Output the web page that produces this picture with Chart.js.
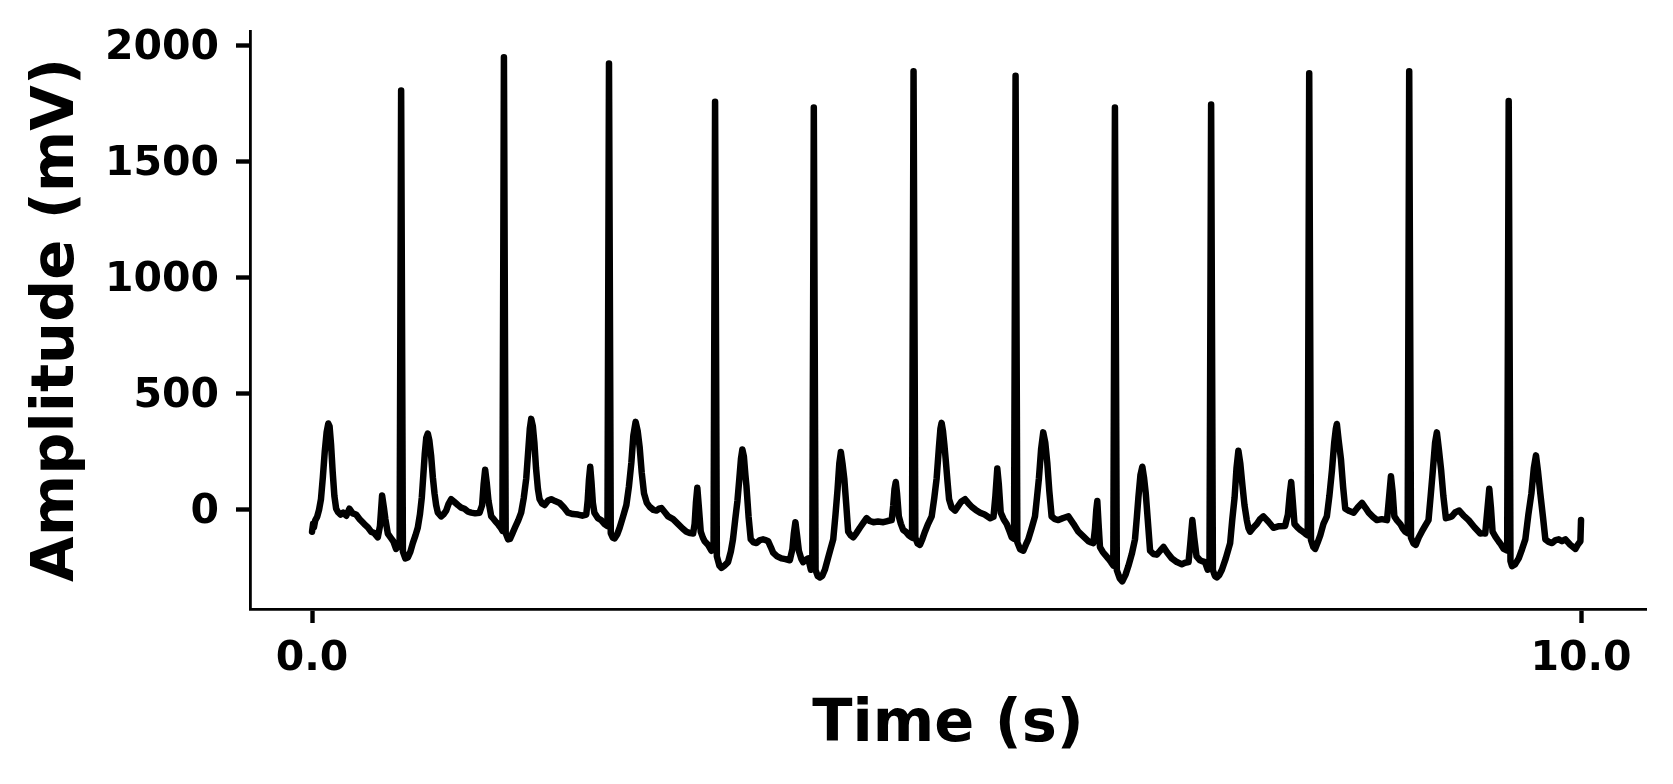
<!DOCTYPE html>
<html>
<head>
<meta charset="utf-8">
<script src="https://cdn.jsdelivr.net/npm/chart.js@4.4.0/dist/chart.umd.min.js"></script>
<style>
  html, body { margin: 0; padding: 0; background: #ffffff; }
  #wrap { width: 1673px; height: 784px; position: relative; }
</style>
</head>
<body>
<div id="wrap"><canvas id="chart"></canvas></div>
<script>
// ---- Data ----
const timeS = [
  0.000, 0.008, 0.015, 0.025, 0.040, 0.055, 0.070, 0.085, 0.100, 0.115, 0.128, 0.138, 0.150, 0.163, 0.176, 0.190, 0.205, 0.225, 0.245, 0.270,
  0.294, 0.320, 0.347, 0.375, 0.412, 0.440, 0.465, 0.490, 0.518, 0.535, 0.552, 0.566, 0.578, 0.597, 0.620, 0.640, 0.662, 0.686,
  0.690, 0.702, 0.716, 0.735, 0.755, 0.775, 0.794, 0.815, 0.833, 0.850, 0.865, 0.877, 0.888, 0.900, 0.912, 0.924, 0.938, 0.952, 0.965, 0.978,
  0.991, 1.017, 1.035, 1.057, 1.075, 1.096, 1.120, 1.149, 1.175, 1.201, 1.230, 1.254, 1.285, 1.320, 1.340, 1.352, 1.364, 1.376, 1.390, 1.412,
  1.432, 1.451, 1.470, 1.490, 1.500,
  1.512, 1.526, 1.545, 1.560, 1.580, 1.600, 1.625, 1.648, 1.668, 1.688, 1.703, 1.716, 1.727, 1.740, 1.752, 1.765, 1.780, 1.793, 1.812, 1.833,
  1.860, 1.885, 1.915, 1.951, 1.985, 2.017, 2.055, 2.096, 2.130, 2.161, 2.172, 2.182, 2.192, 2.202, 2.213, 2.225, 2.253, 2.280, 2.305, 2.328,
  2.340, 2.354, 2.370, 2.385, 2.405, 2.424, 2.450, 2.477, 2.497, 2.516, 2.532, 2.550, 2.566, 2.582, 2.598, 2.616, 2.638, 2.661, 2.690, 2.714,
  2.735, 2.753, 2.780, 2.806, 2.845, 2.885, 2.920, 2.950, 2.980, 3.003, 3.015, 3.025, 3.036, 3.047, 3.063, 3.080, 3.094, 3.120, 3.147, 3.164,
  3.176, 3.190, 3.210, 3.226, 3.250, 3.278, 3.300, 3.317, 3.335, 3.352, 3.368, 3.380, 3.391, 3.403, 3.415, 3.423, 3.440, 3.457, 3.480, 3.502,
  3.530, 3.554, 3.575, 3.594, 3.615, 3.633, 3.665, 3.699, 3.730, 3.765, 3.785, 3.797, 3.809, 3.822, 3.836, 3.855, 3.870, 3.890, 3.910, 3.931,
  3.942,
  3.954, 3.968, 3.985, 4.002, 4.020, 4.041, 4.065, 4.085, 4.107, 4.125, 4.141, 4.155, 4.167, 4.180, 4.194, 4.210, 4.225, 4.245, 4.265, 4.290,
  4.317, 4.345, 4.370, 4.395, 4.423, 4.460, 4.502, 4.535, 4.568, 4.580, 4.590, 4.600, 4.610, 4.624, 4.640, 4.658, 4.680, 4.703, 4.728,
  4.740, 4.754, 4.772, 4.790, 4.810, 4.830, 4.855, 4.883, 4.903, 4.922, 4.940, 4.952, 4.961, 4.972, 4.983, 4.993, 5.008, 5.020, 5.040, 5.067,
  5.090, 5.115, 5.146, 5.170, 5.199, 5.230, 5.265, 5.300, 5.344, 5.370, 5.385, 5.400, 5.412, 5.427, 5.450, 5.474, 5.495, 5.514, 5.532,
  5.544, 5.558, 5.580, 5.605, 5.625, 5.644, 5.670, 5.697, 5.712, 5.728, 5.745, 5.762, 5.778, 5.794, 5.810, 5.828, 5.855, 5.881, 5.920, 5.960,
  6.000, 6.039, 6.080, 6.118, 6.140, 6.157, 6.170, 6.180, 6.188, 6.198, 6.209, 6.230, 6.249, 6.275, 6.296, 6.314,
  6.327, 6.342, 6.365, 6.385, 6.410, 6.433, 6.460, 6.485, 6.500, 6.512, 6.528, 6.543, 6.556, 6.570, 6.588, 6.604, 6.630, 6.657, 6.685, 6.710,
  6.740, 6.775, 6.815, 6.854, 6.880, 6.907, 6.920, 6.937, 6.952, 6.970, 6.997, 7.020, 7.037, 7.058, 7.072,
  7.085, 7.099, 7.115, 7.130, 7.150, 7.170, 7.200, 7.235, 7.252, 7.270, 7.285, 7.300, 7.315, 7.332, 7.348, 7.366, 7.380, 7.392, 7.420, 7.445,
  7.470, 7.497, 7.535, 7.576, 7.620, 7.668, 7.690, 7.705, 7.716, 7.728, 7.742, 7.765, 7.787, 7.810, 7.826, 7.846,
  7.858, 7.872, 7.890, 7.905, 7.925, 7.945, 7.970, 7.997, 8.017, 8.037, 8.055, 8.068, 8.076, 8.090, 8.108, 8.125, 8.142, 8.175, 8.208, 8.240,
  8.274, 8.300, 8.327, 8.360, 8.392, 8.430, 8.471, 8.485, 8.502, 8.515, 8.529, 8.550, 8.576, 8.595, 8.615, 8.634,
  8.646, 8.660, 8.680, 8.698, 8.720, 8.745, 8.770, 8.798, 8.815, 8.832, 8.850, 8.864, 8.880, 8.898, 8.915, 8.935, 8.960, 8.982, 9.010, 9.040,
  9.075, 9.114, 9.160, 9.206, 9.230, 9.245, 9.262, 9.277, 9.290, 9.303, 9.325, 9.350, 9.370, 9.390, 9.418,
  9.430, 9.444, 9.456, 9.480, 9.509, 9.535, 9.561, 9.585, 9.609, 9.628, 9.645, 9.660, 9.679, 9.700, 9.719, 9.745, 9.772, 9.800, 9.824, 9.850,
  9.877, 9.915, 9.956, 9.975, 9.995, 10.000
];
const amplitudeMv = [
  -94, -60, -75, -45, -30, 0, 45, 140, 250, 335, 372, 360, 280, 160, 60, 5, -10, -20, -12, -25,
  5, -15, -20, -40, -61, -75, -94, -100, -118, -70, 62, 10, -40, -102, -120, -135, -168, -150,
  -160, 1807, -180, -209, -205, -180, -143, -110, -77, -20, 54, 150, 240, 310, 329, 300, 235, 140, 71, 20,
  -12, -28, -20, -3, 25, 46, 35, 21, 10, 5, -8, -12, -15, -12, 20, 110, 173, 120, 40, -28,
  -40, -53, -65, -80, -90,
  1950, -100, -127, -125, -100, -75, -45, -12, 50, 136, 250, 350, 392, 360, 290, 180, 90, 46, 28, 21,
  40, 46, 38, 30, 10, -12, -18, -20, -25, -20, 40, 130, 186, 120, 30, -12, -36, -45, -61, -70,
  1923, -100, -120, -123, -105, -77, -30, 21, 100, 202, 320, 379, 340, 268, 160, 71, 30, 13, 0, -3,
  5, 8, -10, -28, -40, -61, -80, -94, -100, -102, -60, 30, 95, 20, -94, -120, -135, -150, -176, -170,
  1758, -200, -240, -250, -240, -225, -180, -127, -40, 38, 140, 220, 260, 230, 150, 104, -30, -127, -140, -143,
  -130, -127, -130, -135, -160, -184, -200, -209, -212, -217, -170, -100, -53, -110, -176, -210, -225, -215, -209, -258,
  -250,
  1733, -260, -285, -291, -285, -258, -210, -170, -127, -20, 87, 200, 249, 200, 136, 20, -94, -110, -118, -100,
  -77, -55, -36, -48, -53, -50, -53, -48, -44, 20, 90, 120, 70, -28, -60, -86, -95, -110, -120,
  1890, -120, -145, -151, -125, -94, -60, -28, 50, 136, 270, 350, 375, 340, 280, 219, 120, 46, 10, -3,
  15, 35, 46, 30, 13, 0, -12, -20, -36, -30, 60, 178, 110, -12, -40, -61, -90, -118, -125,
  1870, -140, -170, -176, -150, -127, -80, -28, 50, 136, 260, 334, 290, 202, 80, -28, -40, -44, -35, -28,
  -60, -94, -115, -135, -140, -143, -80, 0, 38, -60, -160, -180, -193, -210, -225, -240,
  1733, -260, -295, -308, -280, -242, -190, -127, -30, 54, 150, 186, 140, 71, -60, -176, -190, -193, -175, -160,
  -185, -209, -225, -234, -228, -225, -150, -44, -120, -200, -217, -222, -225, -258, -250,
  1746, -260, -285, -291, -280, -258, -210, -143, -40, 54, 180, 255, 200, 104, 20, -44, -80, -94, -75, -61,
  -40, -28, -50, -77, -70, -69, -20, 70, 120, 40, -61, -75, -86, -95, -102, -110,
  1881, -130, -160, -168, -140, -110, -60, -28, 60, 169, 290, 350, 370, 300, 219, 100, 5, -5, -12, 10,
  30, 10, -12, -30, -44, -40, -44, 40, 145, 80, -28, -45, -61, -80, -94, -100,
  1890, -120, -145, -151, -120, -94, -70, -44, 60, 169, 290, 334, 260, 169, 60, -36, -32, -28, -10, -3,
  -25, -44, -75, -102, -100, -102, 0, 91, 10, -94, -115, -135, -150, -168, -175,
  1761, -220, -242, -235, -209, -170, -127, -20, 71, 180, 235, 170, 71, -30, -127, -138, -143, -130, -127, -135,
  -127, -150, -168, -150, -135, -44
];
const xTickValues = [0, 10];
const yTickValues = [0, 500, 1000, 1500, 2000];
const xAxisTitle = 'Time (s)';
const yAxisTitle = 'Amplitude (mV)';

// ---- Chart ----
const points = timeS.map((t, i) => ({ x: t, y: amplitudeMv[i] }));
const FONT = '"DejaVu Sans", "Liberation Sans", sans-serif';

new Chart(document.getElementById('chart'), {
  type: 'line',
  data: {
    datasets: [{
      data: points,
      borderColor: '#000000',
      borderWidth: 6.5,
      pointRadius: 0,
      pointHoverRadius: 0,
      tension: 0,
      fill: false,
      borderJoinStyle: 'round',
      borderCapStyle: 'round'
    }]
  },
  options: {
    responsive: true,
    maintainAspectRatio: false,
    animation: false,
    devicePixelRatio: 1,
    layout: { padding: { left: 0, right: 27, top: 31, bottom: 0 } },
    plugins: { legend: { display: false }, tooltip: { enabled: false } },
    scales: {
      x: {
        type: 'linear',
        min: -0.489,
        max: 10.512,
        afterBuildTicks: (s) => { s.ticks = xTickValues.map(v => ({ value: v })); },
        afterFit: (s) => { s.height = 175; s.paddingLeft = 0; s.paddingRight = 0; },
        ticks: {
          callback: (v) => Number(v).toFixed(1),
          font: { family: FONT, size: 41, weight: 'bold', lineHeight: 1.2 },
          color: '#000000',
          padding: 12,
          maxRotation: 0,
          autoSkip: false
        },
        grid: { drawOnChartArea: false, drawTicks: true, tickLength: 14, tickWidth: 4.4, tickColor: '#000000' },
        border: { display: true, color: '#000000', width: 2.8 },
        title: {
          display: true,
          text: xAxisTitle,
          color: '#000000',
          font: { family: FONT, size: 59, weight: 'bold', lineHeight: 1.2 },
          padding: { top: 0, bottom: 23 }
        }
      },
      y: {
        type: 'linear',
        min: -427,
        max: 2063,
        afterBuildTicks: (s) => { s.ticks = yTickValues.map(v => ({ value: v })); },
        afterFit: (s) => { s.width = 250; s.paddingTop = 0; s.paddingBottom = 0; },
        ticks: {
          callback: (v) => String(v),
          font: { family: FONT, size: 41, weight: 'bold', lineHeight: 1.2 },
          color: '#000000',
          padding: 17,
          labelOffset: 2.5,
          autoSkip: false
        },
        grid: { drawOnChartArea: false, drawTicks: true, tickLength: 14, tickWidth: 4.4, tickColor: '#000000' },
        border: { display: true, color: '#000000', width: 2.8 },
        title: {
          display: true,
          text: yAxisTitle,
          color: '#000000',
          font: { family: FONT, size: 59, weight: 'bold', lineHeight: 1.2 },
          padding: { top: 22, bottom: 0 }
        }
      }
    }
  }
});
</script>
</body>
</html>
